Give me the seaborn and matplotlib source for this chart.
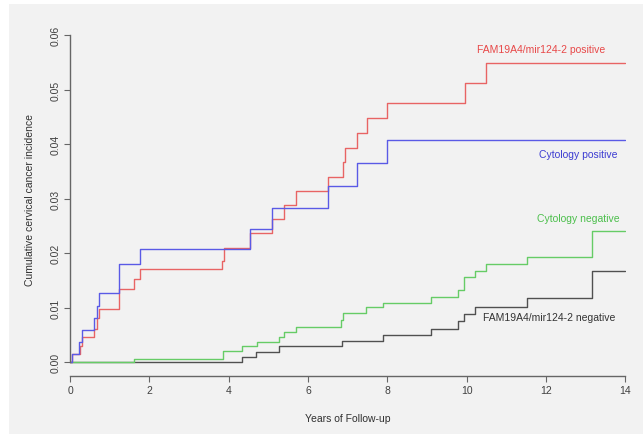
import matplotlib
matplotlib.use("Agg")
import matplotlib.pyplot as plt
from matplotlib.patches import Rectangle
import seaborn as sns
import pandas as pd

# step curves (years, cumulative incidence)
red_t = [0, 0.04, 0.25, 0.3, 0.61, 0.67, 0.74, 1.24, 1.62, 1.76, 3.83, 3.87, 4.54, 5.1, 5.4,
         5.69, 6.51, 6.87, 6.93, 7.24, 7.48, 8.0, 9.96, 10.48, 14]
red_v = [0, 0.0015, 0.003, 0.0047, 0.0062, 0.0081, 0.0098, 0.0134, 0.0153, 0.0171, 0.0185,
         0.0209, 0.0237, 0.0262, 0.0289, 0.0314, 0.034, 0.0367, 0.0393, 0.0421, 0.0448,
         0.0476, 0.0512, 0.0549, 0.0549]

blue_t = [0, 0.04, 0.23, 0.3, 0.61, 0.67, 0.74, 1.24, 1.76, 4.54, 5.1, 6.51, 7.24, 8.0, 14]
blue_v = [0, 0.0015, 0.0037, 0.0059, 0.0081, 0.0104, 0.0127, 0.018, 0.0208, 0.0245, 0.0283,
          0.0324, 0.0366, 0.0408, 0.0408]

green_t = [0, 1.62, 3.85, 4.33, 4.72, 5.27, 5.4, 5.69, 6.83, 6.87, 7.46, 7.9, 9.09, 9.79,
           9.93, 10.2, 10.48, 11.51, 13.15, 14]
green_v = [0, 0.0006, 0.0021, 0.0029, 0.0038, 0.0047, 0.0055, 0.0064, 0.0077, 0.009, 0.0101,
           0.0109, 0.012, 0.0133, 0.0156, 0.0168, 0.018, 0.0194, 0.024, 0.024]

black_t = [0, 4.33, 4.7, 5.27, 6.85, 7.9, 9.09, 9.79, 9.93, 10.2, 11.51, 13.15, 14]
black_v = [0, 0.0009, 0.0019, 0.0029, 0.0039, 0.005, 0.0061, 0.0075, 0.0089, 0.0102, 0.0118,
           0.0167, 0.0167]

names = ["FAM19A4/mir124-2 negative", "Cytology negative",
         "FAM19A4/mir124-2 positive", "Cytology positive"]
colors = ["#505050", "#66cc66", "#e86464", "#5a5ae6"]
x_ticks = [0, 2, 4, 6, 8, 10, 12, 14]
y_ticks = [0.00, 0.01, 0.02, 0.03, 0.04, 0.05, 0.06]

sns.set_style("ticks")
plt.rcParams["font.family"] = ["Liberation Sans", "DejaVu Sans"]

frames = []
for name, t, v in zip(names, [black_t, green_t, red_t, blue_t],
                      [black_v, green_v, red_v, blue_v]):
    frames.append(pd.DataFrame({"years": t, "inc": v, "group": name}))
df = pd.concat(frames, ignore_index=True)

fig = plt.figure(figsize=(6.43, 4.35), dpi=100)
fig.patch.set_facecolor("white")
fig.add_artist(Rectangle((9 / 643, 0), 1, 1 - 5 / 435, transform=fig.transFigure,
                         facecolor="#f2f2f2", edgecolor="none", zorder=-10))

ax = fig.add_axes([70 / 643, 1 - 376.7 / 435, (625.5 - 70) / 643, (376.7 - 23.2) / 435])
ax.set_facecolor("none")

sns.lineplot(data=df, x="years", y="inc", hue="group", hue_order=names,
             palette=colors, drawstyle="steps-post", estimator=None, sort=False,
             linewidth=1.0, legend=False, ax=ax)

ax.set_xlim(0, 14)
ax.set_ylim(-0.00246, 0.0624)
ax.set_xticks(x_ticks)
ax.set_xticklabels([str(x) for x in x_ticks])
ax.set_yticks(y_ticks)
ax.set_yticklabels([f"{y:.2f}" for y in y_ticks], rotation=90, va="center")

for s in ["top", "right"]:
    ax.spines[s].set_visible(False)
ax.spines["left"].set_bounds(0, 0.06)
ax.spines["bottom"].set_bounds(0, 14)
for s in ["left", "bottom"]:
    ax.spines[s].set_color("#666666")
    ax.spines[s].set_linewidth(1.0)
ax.tick_params(direction="out", length=4, width=0.8, color="#666666",
               labelsize=7.5, labelcolor="#404040", pad=3)

ax.set_xlabel("Years of Follow-up", fontsize=7.5, color="#303030", labelpad=13)
ax.set_ylabel("Cumulative cervical cancer incidence", fontsize=7.5, color="#303030",
              labelpad=11)

ax.text(13.5, 0.0574, "FAM19A4/mir124-2 positive", color="#e84848", fontsize=7.5,
        ha="right", va="center")
ax.text(13.79, 0.0382, "Cytology positive", color="#3c3cd2", fontsize=7.5,
        ha="right", va="center")
ax.text(13.84, 0.0265, "Cytology negative", color="#4cbf4c", fontsize=7.5,
        ha="right", va="center")
ax.text(10.42, 0.0084, "FAM19A4/mir124-2 negative", color="#333333", fontsize=7.5,
        ha="left", va="center")

fig.savefig("out.png", dpi=100)
